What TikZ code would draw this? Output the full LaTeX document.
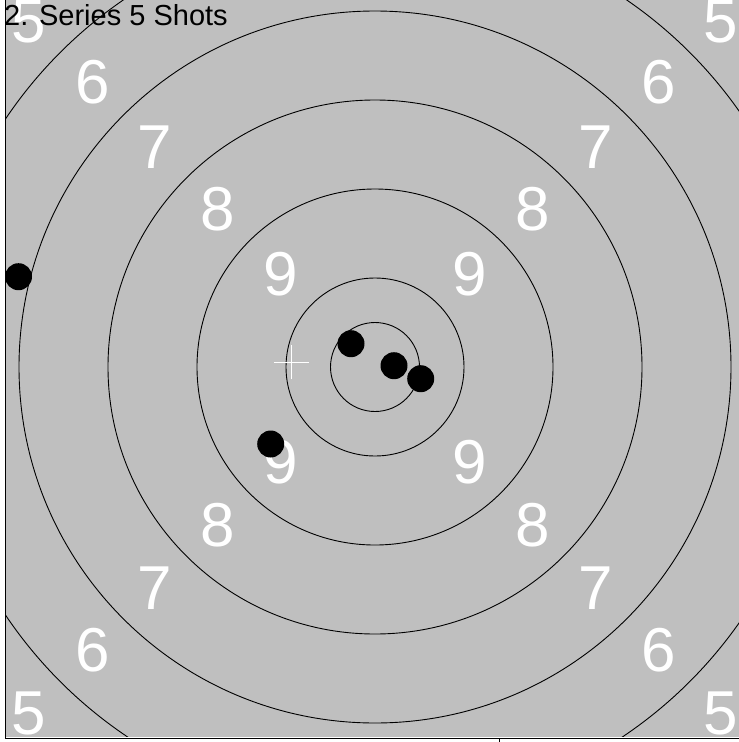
\documentclass[tikz,border=0pt]{standalone}
\usepackage{fontspec}
\setmainfont{Liberation Sans}
\usepackage{tikz}
\usepackage{xcolor}

\tikzset{
  ringline/.style={black,line width=0.9pt},
  ringnum/.style={white,inner sep=0pt,font=\fontsize{62}{62}\selectfont},
}

\begin{document}
\begin{tikzpicture}[x=1pt,y=-1pt,line cap=butt]
\useasboundingbox (0,0) rectangle (739,742);
\fill[black!25] (6,0) rectangle (739,736.7);
\begin{scope}
\clip (6,0) rectangle (739,736.7);
\draw[ringline] (375,367) circle (44.5pt);
\draw[ringline] (375,367) circle (89pt);
\draw[ringline] (375,367) circle (178pt);
\draw[ringline] (375,367) circle (267pt);
\draw[ringline] (375,367) circle (356pt);
\draw[ringline] (375,367) circle (445pt);
% ring numbers
\node[ringnum] (n9a) at (281,274) {9};
\node[ringnum] (n9b) at (470,274) {9};
\node[ringnum] (n9c) at (281,462.5) {9};
\node[ringnum] (n9d) at (470,462.5) {9};
\node[ringnum] (n8a) at (218,209.5) {8};
\node[ringnum] (n8b) at (532.5,209.5) {8};
\node[ringnum] (n8c) at (218,525.5) {8};
\node[ringnum] (n8d) at (532.5,525.5) {8};
\node[ringnum] (n7a) at (154.5,147) {7};
\node[ringnum] (n7b) at (596,147) {7};
\node[ringnum] (n7c) at (154.5,588) {7};
\node[ringnum] (n7d) at (596,588) {7};
\node[ringnum] (n6a) at (92.5,82) {6};
\node[ringnum] (n6b) at (658.5,82) {6};
\node[ringnum] (n6c) at (92.5,650.5) {6};
\node[ringnum] (n6d) at (658.5,650.5) {6};
\node[ringnum] (n5a) at (29,21) {5};
\node[ringnum] (n5b) at (720.5,21) {5};
\node[ringnum] (n5c) at (28.5,713) {5};
\node[ringnum] (n5d) at (720.5,713) {5};
\end{scope}
% shots
\fill[black] (18.5,276.7) circle (13.5pt);
\fill[black] (351,343.7) circle (13.5pt);
\fill[black] (394,365.7) circle (13.5pt);
\fill[black] (420.7,378.7) circle (13.5pt);
\fill[black] (270.7,444) circle (13.5pt);
% aiming cross
\coordinate (aim) at (291.5,362);
\draw[white,line width=0.9pt] ([xshift=-17.5pt]aim) -- ([xshift=17.5pt]aim);
\draw[white,line width=0.9pt] ([yshift=-17pt]aim) -- ([yshift=17pt]aim);
% frame
\draw[black,line width=1pt] (5,0) -- (5,738.7) -- (739,738.7);
\draw[black,line width=1pt] (499.5,738.7) -- (499.5,742);
\node[anchor=base west,inner sep=0pt,font=\fontsize{29}{29}\selectfont] (title) at (4,25) {2. Series 5 Shots};
\end{tikzpicture}
\end{document}
